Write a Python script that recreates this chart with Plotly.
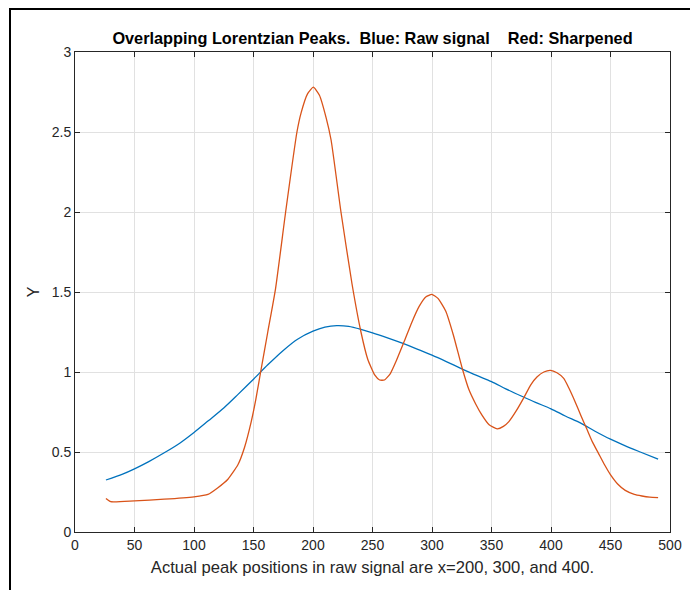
import plotly.graph_objects as go

# Raw signal (blue)
raw_x = [26, 40, 50, 62, 75, 88, 100, 112, 125, 137, 150, 162, 175, 187, 200, 210, 220,
         230, 241, 250, 262, 275, 287, 300, 312, 325, 337, 350, 362, 375, 387, 400, 412,
         425, 437, 450, 462, 475, 490]
raw_y = [0.325, 0.362, 0.395, 0.44, 0.495, 0.555, 0.622, 0.695, 0.775, 0.86, 0.955, 1.045,
         1.135, 1.205, 1.255, 1.28, 1.29, 1.285, 1.265, 1.245, 1.215, 1.18, 1.145, 1.105,
         1.065, 1.02, 0.98, 0.94, 0.895, 0.85, 0.81, 0.77, 0.725, 0.68, 0.63, 0.58, 0.54,
         0.50, 0.455]

# Sharpened signal (red)
sharp_x = [26, 30, 50, 75, 100, 111.7, 120.1, 128.5, 136.9, 142.5, 148.1, 152, 156, 162,
           168.5, 177, 186.5, 190, 195.5, 200.3, 205.4, 211, 215.2, 223.5, 232.8, 240.3,
           246, 252, 256, 260, 265, 270, 276.6, 283, 289.2, 295, 299.8, 305, 311.6, 318,
           325.5, 331, 336.7, 342, 348, 354.8, 360, 364.6, 371, 377.2, 383, 388.4, 394,
           399.6, 405, 410.7, 415, 420.5, 425, 430.3, 435, 440, 445, 449.8, 456, 462.4,
           470, 476.4, 483, 490]
sharp_y = [0.21, 0.19, 0.195, 0.205, 0.22, 0.235, 0.277, 0.33, 0.42, 0.53, 0.69, 0.83,
           1.0, 1.25, 1.52, 2.0, 2.5, 2.62, 2.74, 2.78, 2.73, 2.59, 2.45, 2.0, 1.55, 1.25,
           1.08, 0.98, 0.95, 0.95, 0.99, 1.07, 1.19, 1.31, 1.41, 1.47, 1.485, 1.46, 1.38,
           1.23, 1.02, 0.89, 0.80, 0.73, 0.67, 0.645, 0.66, 0.69, 0.76, 0.84, 0.92, 0.97,
           1.0, 1.01, 0.995, 0.96, 0.90, 0.81, 0.73, 0.64, 0.56, 0.49, 0.42, 0.36, 0.30,
           0.26, 0.235, 0.225, 0.218, 0.215]

x_ticks = [0, 50, 100, 150, 200, 250, 300, 350, 400, 450, 500]
y_ticks = [0, 0.5, 1, 1.5, 2, 2.5, 3]
y_tick_labels = ["0", "0.5", "1", "1.5", "2", "2.5", "3"]

title_text = "Overlapping Lorentzian Peaks.  Blue: Raw signal    Red: Sharpened"
x_title = "Actual peak positions in raw signal are x=200, 300, and 400."

FONT = "Liberation Sans, Arial, Helvetica"

# page has an 8px body margin; figure sized to fit the 698x590 window
W, H = 690, 582
L, T = 67, 44
PW, PH = 595, 480

fig = go.Figure()
fig.add_trace(go.Scatter(x=raw_x, y=raw_y, mode="lines",
                         line=dict(color="#0072BD", width=1.3, shape="spline", smoothing=0.8),
                         showlegend=False))
fig.add_trace(go.Scatter(x=sharp_x, y=sharp_y, mode="lines",
                         line=dict(color="#D95319", width=1.3, shape="spline", smoothing=0.5),
                         showlegend=False))

axis_common = dict(
    showgrid=True, gridcolor="#e1e1e1", gridwidth=1,
    showline=True, linecolor="#262626", linewidth=1, mirror="ticks",
    ticks="inside", ticklen=5, tickcolor="#262626",
    tickfont=dict(family=FONT, size=14, color="#262626"),
    zeroline=False,
)

fig.update_layout(
    width=W, height=H,
    margin=dict(l=L, r=W - L - PW, t=T, b=H - T - PH, pad=0),
    paper_bgcolor="white", plot_bgcolor="white",
    title=dict(text="<b>" + title_text + "</b>", x=0.5, xref="paper", xanchor="center",
               y=1.0, yref="paper", yanchor="bottom", pad=dict(b=8),
               font=dict(family=FONT, size=16.3, color="#000000")),
    xaxis=dict(range=[0, 500], tickvals=x_ticks,
               title=dict(text=x_title, standoff=9,
                          font=dict(family=FONT, size=16.6, color="#262626")),
               **axis_common),
    yaxis=dict(range=[0, 3], tickvals=y_ticks, ticktext=y_tick_labels,
               title=dict(text="Y", standoff=8,
                          font=dict(family=FONT, size=16, color="#262626")),
               **axis_common),
    shapes=[dict(type="rect", xref="paper", yref="paper",
                 x0=(2 - L) / PW, x1=(689 - L) / PW,
                 y0=(T + PH - 620) / PH, y1=(T + PH - 1) / PH,
                 line=dict(color="black", width=2), fillcolor="rgba(0,0,0,0)", layer="below")],
)

fig.write_html("out.html")
